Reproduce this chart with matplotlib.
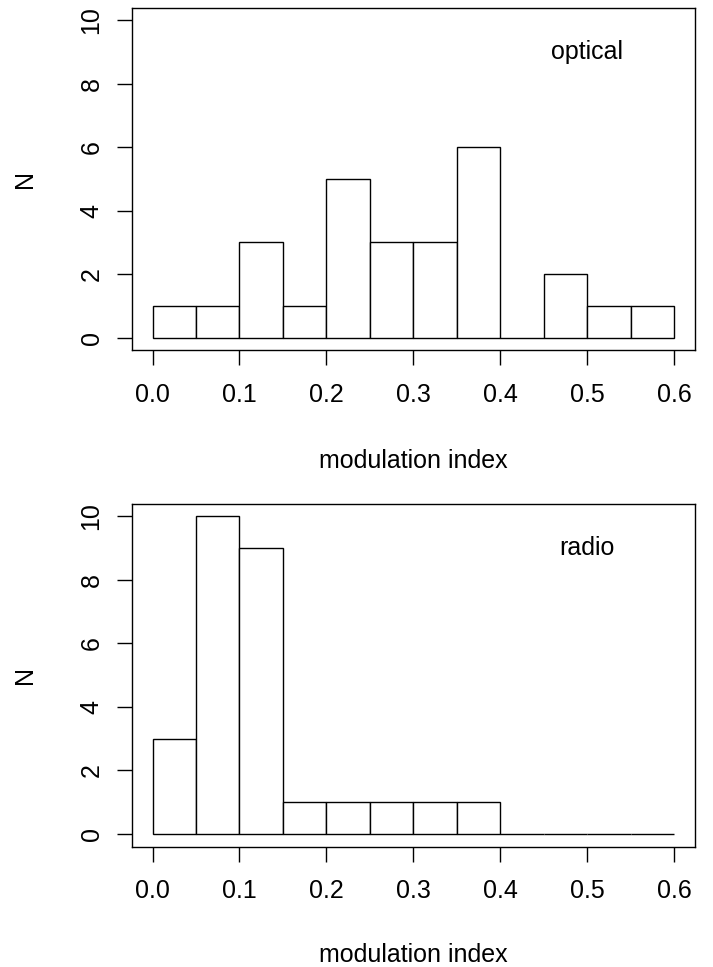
import matplotlib
matplotlib.use("Agg")
import matplotlib.pyplot as plt
import numpy as np

plt.rcParams['font.family'] = ['Liberation Sans', 'DejaVu Sans']

bin_edges = [0.0, 0.05, 0.1, 0.15, 0.2, 0.25, 0.3, 0.35, 0.4, 0.45, 0.5, 0.55, 0.6]
optical_counts = [1, 1, 3, 1, 5, 3, 3, 6, 0, 2, 1, 1]
radio_counts = [3, 10, 9, 1, 1, 1, 1, 1, 0, 0, 0, 0]
x_ticks = [0.0, 0.1, 0.2, 0.3, 0.4, 0.5, 0.6]
x_ticklabels = ["0.0", "0.1", "0.2", "0.3", "0.4", "0.5", "0.6"]
y_ticks = [0, 2, 4, 6, 8, 10]
panel_labels = ["optical", "radio"]
xlabel = "modulation index"
ylabel = "N"

W, H = 713, 967
fig = plt.figure(figsize=(W / 100, H / 100), dpi=100)

LW = 1.0
FS = 18

def px_axes(left, top, right, bottom):
    return fig.add_axes([left / W, 1 - bottom / H, (right - left) / W, (bottom - top) / H])

panels = [
    (optical_counts, panel_labels[0], 7.6, 350.4, 117.4),
    (radio_counts, panel_labels[1], 503.7, 846.7, 115.3),
]

for counts, lab, top, bottom, xlab_off in panels:
    ax = px_axes(131.7, top, 695.0, bottom)
    edges = np.array(bin_edges)
    ax.bar(edges[:-1], counts, width=np.diff(edges), align='edge',
           facecolor='white', edgecolor='black', linewidth=LW)
    ax.set_xlim(-0.024, 0.624)
    ax.set_ylim(-0.4, 10.4)
    ax.set_xticks(x_ticks)
    ax.set_xticklabels(x_ticklabels)
    ax.set_yticks(y_ticks)
    ax.set_yticklabels([str(v) for v in y_ticks], rotation=90, va='center')
    ax.tick_params(axis='both', direction='out', length=10.8, width=LW,
                   labelsize=FS, color='black')
    ax.tick_params(axis='x', pad=12.5)
    ax.tick_params(axis='y', pad=9.5)
    for s in ax.spines.values():
        s.set_linewidth(LW)
        s.set_color('black')
    ax.text(0.5, 9, lab, ha='center', va='center', fontsize=FS)
    fig.text(413.3 / W, 1 - (bottom + xlab_off) / H, xlabel, ha='center',
             va='baseline', fontsize=FS)
    fig.text(25 / W, 1 - ((top + bottom) / 2) / H, ylabel, ha='center',
             va='center', rotation=90, fontsize=FS)

fig.savefig("out.png", dpi=100)
